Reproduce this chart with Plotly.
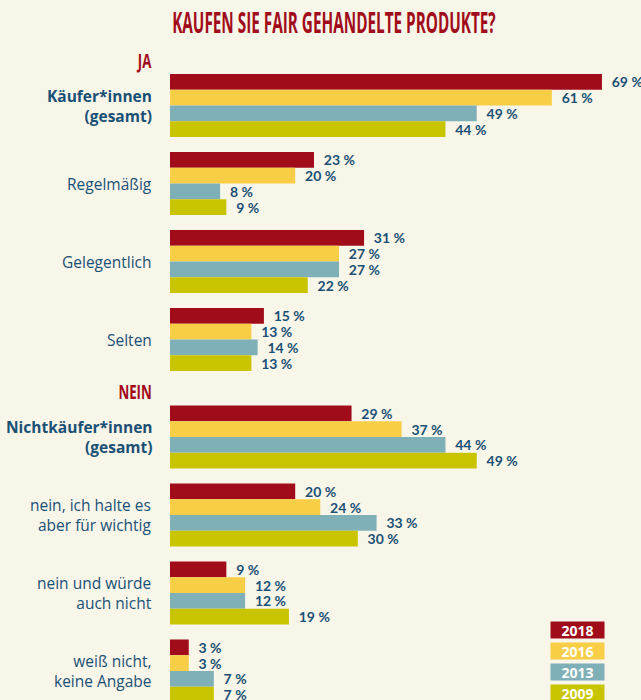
import plotly.graph_objects as go

categories = [
    "<b>Käufer*innen<br>(gesamt)</b>",
    "Regelmäßig",
    "Gelegentlich",
    "Selten",
    "<b>Nichtkäufer*innen<br>(gesamt)</b>",
    "nein, ich halte es<br>aber für wichtig",
    "nein und würde<br>auch nicht",
    "weiß nicht,<br>keine Angabe",
]
years = ["2018", "2016", "2013", "2009"]
values = {
    "2018": [69, 23, 31, 15, 29, 20, 9, 3],
    "2016": [61, 20, 27, 13, 37, 24, 12, 3],
    "2013": [49, 8, 27, 14, 44, 33, 12, 7],
    "2009": [44, 9, 22, 13, 49, 30, 19, 7],
}
section_headings = ["JA", "NEIN"]
title = "KAUFEN SIE FAIR GEHANDELTE PRODUKTE?"

colors = {"2018": "#a10c1a", "2016": "#f8ce46", "2013": "#7fb0b7", "2009": "#c8c500"}
BG = "#f8f5e9"
BLUE = "#1a5075"
RED = "#a10c1a"
HEAD_FONT = "Open Sans, sans-serif"
BODY_FONT = "Open Sans, Lato, sans-serif"
VAL_FONT = "Lato, Open Sans, sans-serif"

# group positions (unit = one group pitch); extra gap before the NEIN section
pos = [i + (0.25 if i >= 4 else 0) for i in range(len(categories))]
bw = 0.202

fig = go.Figure()
for k, yr in enumerate(years):
    fig.add_trace(go.Bar(
        orientation="h",
        y=pos,
        x=values[yr],
        base=0,
        width=bw,
        offset=-2 * bw + k * bw,
        marker=dict(color=colors[yr], line=dict(width=0)),
        text=["\u00a0\u00a0%d %%" % v for v in values[yr]],
        textposition="outside",
        textfont=dict(family=VAL_FONT, size=14, color=BLUE, weight="bold"),
        constraintext="none",
        cliponaxis=False,
        showlegend=False,
        hoverinfo="skip",
    ))

annotations = []
for p, cat in zip(pos, categories):
    annotations.append(dict(
        x=0, y=p, xref="x", yref="y", text=cat, showarrow=False,
        xanchor="right", yanchor="middle", align="right", xshift=-16,
        font=dict(family=BODY_FONT, size=15.5, color=BLUE),
    ))

heading_pos = [pos[0] - 0.58, pos[4] - 0.58]
for p, h in zip(heading_pos, section_headings):
    annotations.append(dict(
        x=0, y=p, xref="x", yref="y", text="<b>%s</b>" % h, showarrow=False,
        xanchor="right", yanchor="middle", xshift=-16,
        font=dict(family=HEAD_FONT, size=17, color=RED),
    ))

annotations.append(dict(
    x=0, y=1 - 22 / 700, xref="paper", yref="paper", text="<b>%s</b>" % title,
    showarrow=False, xanchor="left", yanchor="middle",
    font=dict(family=HEAD_FONT, size=20, color=RED),
))

# legend boxes
for k, yr in enumerate(years):
    yc = 629.5 + k * 21
    annotations.append(dict(
        x=(577.5 - 170) / 471, y=1 - yc / 700, xref="paper", yref="paper",
        text=yr, showarrow=False, xanchor="center", yanchor="middle",
        width=53, height=16, bgcolor=colors[yr], borderpad=0,
        font=dict(family=BODY_FONT, size=14, color="white", weight="bold"),
    ))

px_per_unit = 78.0
center0 = 105.5
fig.update_layout(
    width=641, height=700,
    margin=dict(l=170, r=0, t=0, b=0),
    paper_bgcolor=BG, plot_bgcolor=BG,
    barmode="overlay",
    xaxis=dict(range=[0, 471 / 6.26], visible=False, fixedrange=True),
    yaxis=dict(range=[(700 - center0) / px_per_unit, -center0 / px_per_unit],
               visible=False, fixedrange=True),
    annotations=annotations,
)

post_js = """
document.body.style.margin='0';
document.body.style.overflow='hidden';
document.body.style.background='%s';
document.querySelectorAll('text.annotation-text').forEach(function(t){
  var s = t.textContent;
  if (s === %r) {
    t.style.transformBox='fill-box'; t.style.transformOrigin='0%% 50%%';
    t.style.transform='scale(0.765,1.4)';
  } else if (s === 'JA' || s === 'NEIN') {
    t.style.transformBox='fill-box'; t.style.transformOrigin='100%% 50%%';
    t.style.transform='scale(0.78,1.2)';
  }
});
""" % (BG, title)

fig.write_html("out.html", config={"displayModeBar": False}, post_script=post_js)
